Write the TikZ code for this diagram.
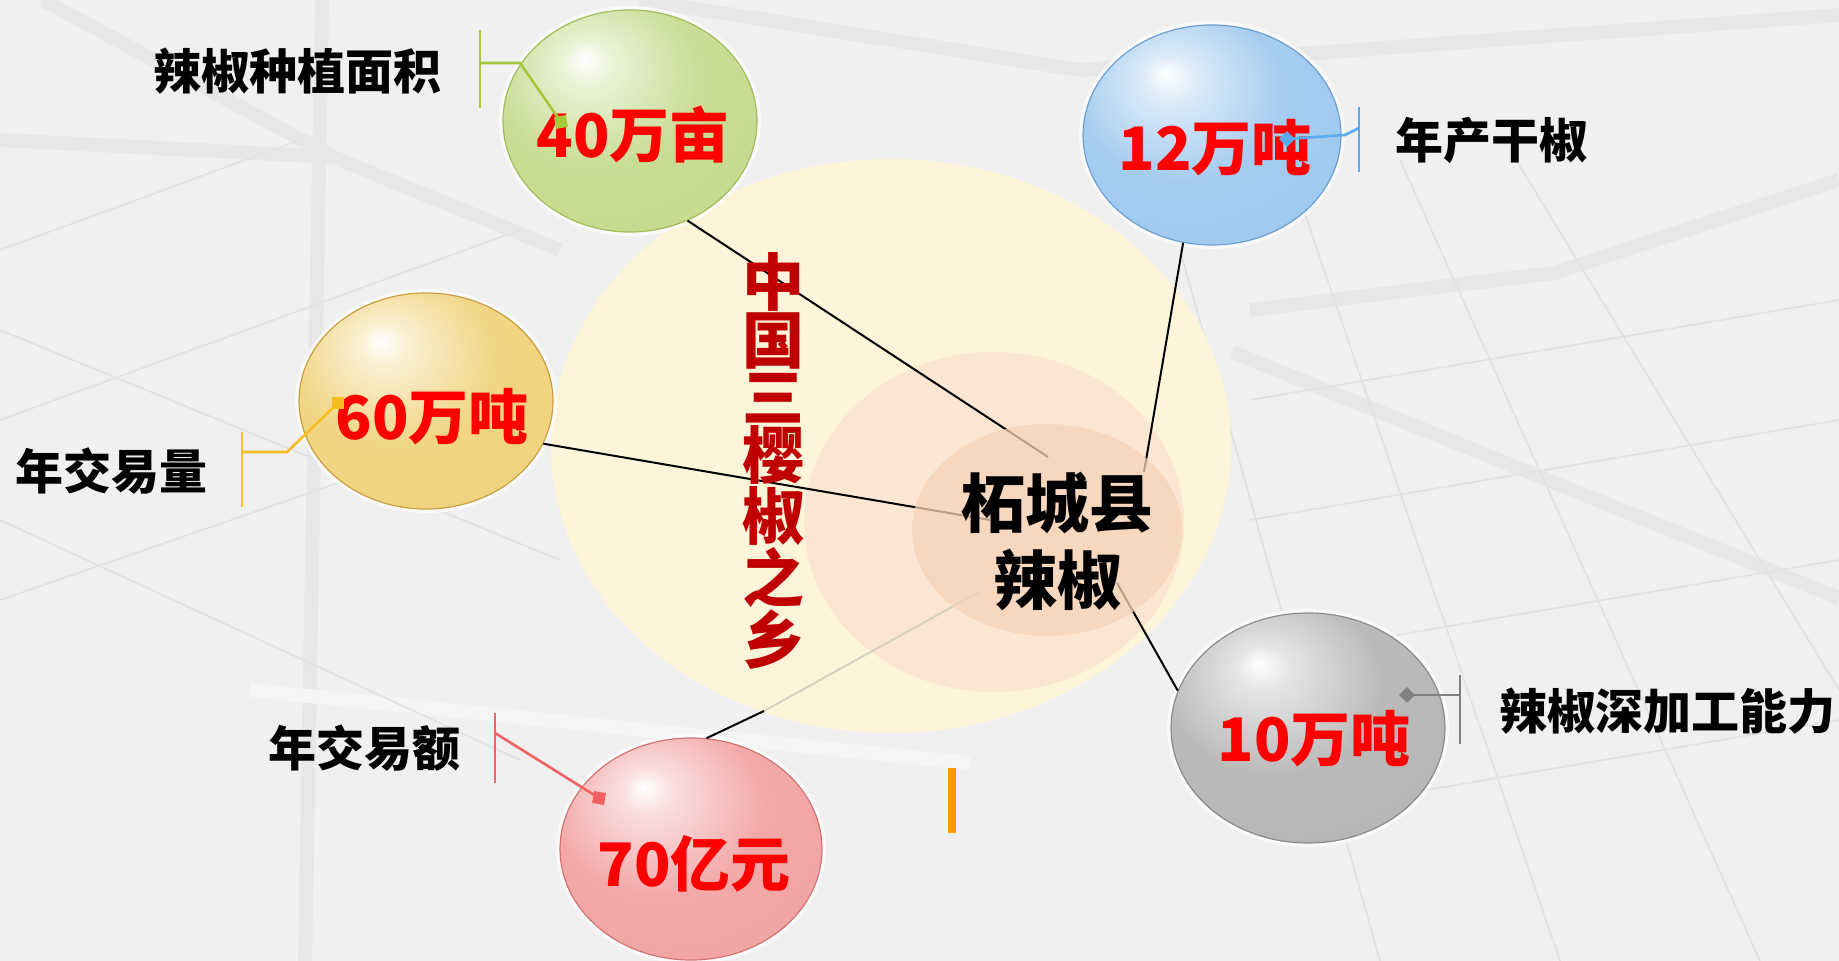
\documentclass[tikz,border=0pt]{standalone}
\usepackage{fontspec}
\newfontfamily\cjk{Noto Sans CJK SC}[BoldFont={* Black}]
\usetikzlibrary{shapes}

\definecolor{bgBase}{HTML}{F0F0F0}
\definecolor{bgBand}{HTML}{E7E7E7}
\definecolor{bgLine}{HTML}{E2E2E2}
\definecolor{creamFill}{HTML}{FDF4DA}
\definecolor{peachOuter}{HTML}{FBE6D3}
\definecolor{peachInner}{HTML}{F6D2B8}
\definecolor{sloganRed}{HTML}{C00000}
\definecolor{numRed}{HTML}{FF0000}
\definecolor{greenBall}{HTML}{C4DA8C}
\definecolor{greenRim}{HTML}{A3BC5C}
\definecolor{greenCall}{HTML}{A4C83A}
\definecolor{blueBall}{HTML}{9DC8EE}
\definecolor{blueRim}{HTML}{6E9FCF}
\definecolor{blueCall}{HTML}{5AAAF0}
\definecolor{yellowBall}{HTML}{F0D27A}
\definecolor{yellowRim}{HTML}{C9A040}
\definecolor{yellowCall}{HTML}{F5BD1F}
\definecolor{grayBall}{HTML}{B4B4B4}
\definecolor{grayRim}{HTML}{8C8C8C}
\definecolor{grayCall}{HTML}{808080}
\definecolor{pinkBall}{HTML}{F2A2A2}
\definecolor{pinkRim}{HTML}{D27474}
\definecolor{pinkCall}{HTML}{F06262}
\definecolor{fadeLine}{HTML}{D8D0C0}
\definecolor{barOrange}{HTML}{FF9900}

\makeatletter
\pgfdeclareradialshading[tikz@ball]{bubble}{\pgfpoint{-9bp}{14bp}}{%
  color(0bp)=(white);
  color(5bp)=(tikz@ball!35!white);
  color(20bp)=(tikz@ball!92!white);
  color(40bp)=(tikz@ball);
  color(56bp)=(tikz@ball!88!black);
  color(66bp)=(tikz@ball!75!black)}
\makeatother

\begin{document}
\begin{tikzpicture}[x=0.5pt, y=-0.5pt, font=\cjk\bfseries]
	\tikzstyle{bandStyle}=[draw=bgBand, line width=7pt]
	\tikzstyle{gridStyle}=[draw=bgLine, line width=0.8pt]
	\tikzstyle{bubbleStyle}=[shape=ellipse, inner sep=0pt, line width=0.6pt, preaction={draw=white, line width=4pt, opacity=0.6}]
	\tikzstyle{areaStyle}=[bubbleStyle, ball color=greenBall, shading=bubble, draw=greenRim]
	\tikzstyle{outputStyle}=[bubbleStyle, ball color=blueBall, shading=bubble, draw=blueRim]
	\tikzstyle{volumeStyle}=[bubbleStyle, ball color=yellowBall, shading=bubble, draw=yellowRim]
	\tikzstyle{processStyle}=[bubbleStyle, ball color=grayBall, shading=bubble, draw=grayRim]
	\tikzstyle{turnoverStyle}=[bubbleStyle, ball color=pinkBall, shading=bubble, draw=pinkRim]
	\tikzstyle{numStyle}=[text=numRed, font=\cjk\bfseries\fontsize{30}{36}\selectfont, inner sep=0pt]
	\tikzstyle{labelStyle}=[text=black, font=\cjk\bfseries\fontsize{24}{29}\selectfont, inner sep=0pt]
	\tikzstyle{linkStyle}=[draw=black, line width=1pt]
	\tikzstyle{calloutStyle}=[line width=1.3pt]
	\tikzstyle{squareMark}=[shape=rectangle, minimum size=6pt, inner sep=0pt]
	\tikzstyle{diamondMark}=[shape=diamond, minimum size=8pt, inner sep=0pt]

	% background
	\useasboundingbox (0,0) rectangle (1839,961);
	\fill[bgBase] (0,0) rectangle (1839,961);
	\draw[bandStyle] (43,0) -- (333,157) -- (560,250);
	\draw[bandStyle] (0,140) -- (333,157);
	\draw[bandStyle] (322,0) -- (305,961);
	\draw[bandStyle] (640,0) -- (1080,70) -- (1839,15);
	\draw[bandStyle] (1250,310) -- (1554,273) -- (1839,180);
	\draw[bandStyle] (1232,352) -- (1839,598);
	\draw[bandStyle, draw=white!35!bgBase] (250,690) -- (970,763);
	\draw[gridStyle] (1290,170) -- (1560,961);
	\draw[gridStyle] (1400,160) -- (1760,961);
	\draw[gridStyle] (1510,150) -- (1839,690);
	\draw[gridStyle] (1180,250) -- (1380,961);
	\draw[gridStyle] (1250,400) -- (1839,300);
	\draw[gridStyle] (1250,520) -- (1839,420);
	\draw[gridStyle] (1250,660) -- (1839,560);
	\draw[gridStyle] (1250,820) -- (1839,720);
	\draw[gridStyle] (0,250) -- (300,140);
	\draw[gridStyle] (0,420) -- (520,230);
	\draw[gridStyle] (0,600) -- (520,420);
	\draw[gridStyle] (0,330) -- (560,560);
	\draw[gridStyle] (0,520) -- (520,760);

	% core areas
	\node[shape=ellipse, fill=creamFill, minimum width=340pt, minimum height=287pt] (region) at (891,446) {};
	\node[shape=ellipse, fill=peachOuter, minimum width=190pt, minimum height=170pt] (county) at (994,522) {};

	% spheres
	\node[areaStyle, minimum width=127pt, minimum height=111pt] (area) at (630,121) {};
	\node[outputStyle, minimum width=129pt, minimum height=110pt] (output) at (1212,135) {};
	\node[volumeStyle, minimum width=127pt, minimum height=108pt] (volume) at (426,401) {};
	\node[processStyle, minimum width=137pt, minimum height=115pt] (process) at (1308,728) {};
	\node[turnoverStyle, minimum width=131pt, minimum height=111pt] (turnover) at (691,849) {};

	% links to the centre
	\coordinate (areaEnd) at (1048,457);
	\coordinate (outputEnd) at (1144,472);
	\coordinate (volumeEnd) at (990,520);
	\coordinate (processEnd) at (1117,583);
	\coordinate (turnoverMid) at (764,711);
	\coordinate (turnoverEnd) at (979,592);
	\draw[linkStyle] (area.-60) -- (areaEnd);
	\draw[linkStyle] (output.255) -- (outputEnd);
	\draw[linkStyle] (volume.-20) -- (volumeEnd);
	\draw[linkStyle] (process.164) -- (processEnd);
	\draw[linkStyle, draw=fadeLine] (turnoverMid) -- (turnoverEnd);
	\draw[linkStyle] (turnover.82) -- (turnoverMid);

	\node[shape=ellipse, fill=peachInner, fill opacity=0.75, minimum width=135pt, minimum height=106pt] (core) at (1047,530) {};
	\node[align=center, font=\cjk\bfseries\fontsize{32}{38.5}\selectfont, inner sep=0pt] (coreText) at (1057,542) {柘城县\\辣椒};
	\node[align=center, text=sloganRed, font=\cjk\bfseries\fontsize{31}{28.8}\selectfont, inner sep=0pt] (slogan) at (773,461) {中\\国\\三\\樱\\椒\\之\\乡};

	% values
	\node[numStyle] (areaNum) at (633,135) {40万亩};
	\node[numStyle] (outputNum) at (1215,148) {12万吨};
	\node[numStyle] (volumeNum) at (432,417) {60万吨};
	\node[numStyle] (processNum) at (1314,739) {10万吨};
	\node[numStyle] (turnoverNum) at (694,864) {70亿元};

	% labels
	\node[labelStyle] (areaLabel) at (297,71) {辣椒种植面积};
	\node[labelStyle] (outputLabel) at (1491,140) {年产干椒};
	\node[labelStyle] (volumeLabel) at (111,471) {年交易量};
	\node[labelStyle] (turnoverLabel) at (364,748) {年交易额};
	\node[labelStyle] (processLabel) at (1667,711) {辣椒深加工能力};

	% callouts
	\coordinate (areaBar) at (480,63);
	\coordinate (areaMark) at (561,122);
	\draw[calloutStyle, draw=greenCall] (480,30) -- (480,108);
	\draw[calloutStyle, draw=greenCall] (areaBar) -- ++(40,0) -- (areaMark);
	\node[squareMark, fill=greenCall, rotate=10] at (areaMark) {};

	\coordinate (outputBar) at (1359,128);
	\coordinate (outputMark) at (1287,139);
	\draw[calloutStyle, draw=blueCall] (1359,107) -- (1359,172);
	\draw[calloutStyle, draw=blueCall] (outputBar) -- ++(-14,7) -- (outputMark);
	\node[diamondMark, fill=blueCall] at (outputMark) {};

	\coordinate (volumeBar) at (242,452);
	\coordinate (volumeMark) at (338,403);
	\draw[calloutStyle, draw=yellowCall] (242,432) -- (242,507);
	\draw[calloutStyle, draw=yellowCall] (volumeBar) -- ++(45,0) -- (volumeMark);
	\node[squareMark, fill=yellowCall] at (volumeMark) {};

	\coordinate (turnoverBar) at (495,733);
	\coordinate (turnoverMark) at (599,798);
	\draw[calloutStyle, draw=pinkCall] (495,713) -- (495,783);
	\draw[calloutStyle, draw=pinkCall] (turnoverBar) -- (turnoverMark);
	\node[squareMark, fill=pinkCall, rotate=-10] at (turnoverMark) {};

	\coordinate (processBar) at (1460,695);
	\coordinate (processMark) at (1407,695);
	\draw[calloutStyle, draw=grayCall] (1460,675) -- (1460,744);
	\draw[calloutStyle, draw=grayCall] (processBar) -- (processMark);
	\node[diamondMark, fill=grayCall] at (processMark) {};

	% marker bar
	\fill[barOrange] (948,768) rectangle (956,833);
\end{tikzpicture}
\end{document}
